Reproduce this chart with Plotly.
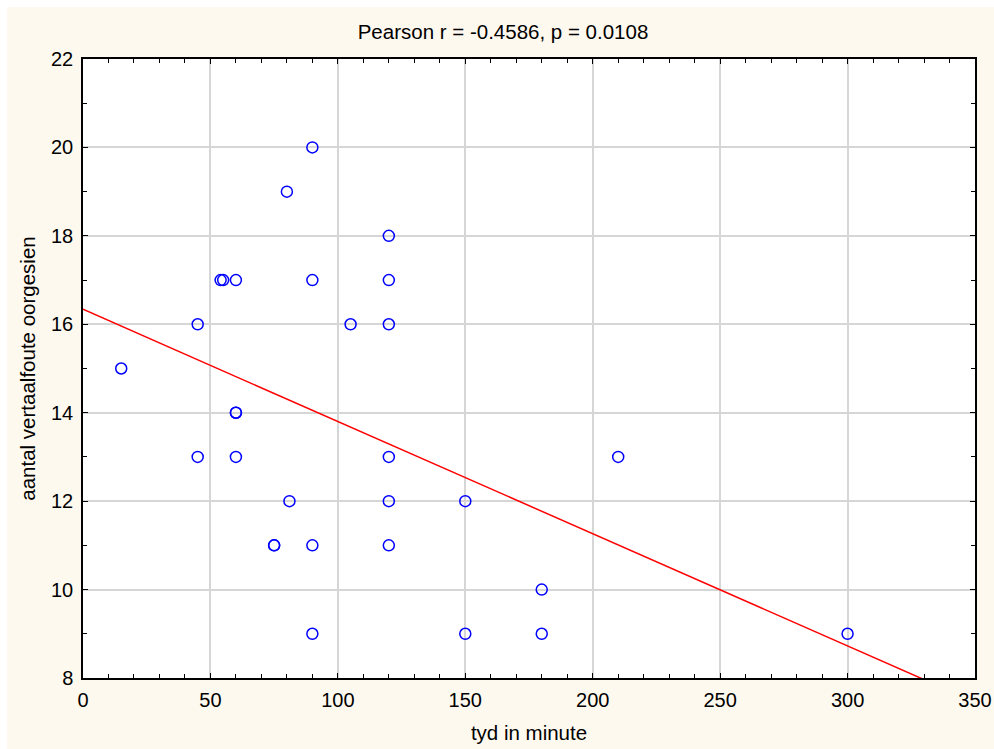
import numpy as np
import plotly.graph_objects as go

tyd = [15, 45, 45, 54, 55, 60, 60, 60, 60, 75, 75, 80, 81, 90, 90, 90, 90, 105,
       120, 120, 120, 120, 120, 120, 150, 150, 180, 180, 210, 300]
foute = [15, 16, 13, 17, 17, 17, 14, 14, 13, 11, 11, 19, 12, 20, 17, 11, 9, 16,
         18, 17, 16, 13, 12, 11, 12, 9, 10, 9, 13, 9]

x_ticks = [0, 50, 100, 150, 200, 250, 300, 350]
y_ticks = [8, 10, 12, 14, 16, 18, 20, 22]
title_text = "Pearson r = -0.4586, p = 0.0108"
x_title = "tyd in minute"
y_title = "aantal vertaalfoute oorgesien"

slope, intercept = np.polyfit(tyd, foute, 1)
line_x = [0, 350]
line_y = [intercept + slope * v for v in line_x]

FONT = "Liberation Sans, Arial, sans-serif"
CREAM = "#FEF9EF"

fig = go.Figure()
fig.add_trace(go.Scatter(x=line_x, y=line_y, mode="lines",
                         line=dict(color="#FF0000", width=1.5),
                         hoverinfo="skip", showlegend=False))
fig.add_trace(go.Scatter(x=tyd, y=foute, mode="markers",
                         marker=dict(symbol="circle-open", size=11,
                                     color="#0000FF", line=dict(width=1.5, color="#0000FF")),
                         showlegend=False, cliponaxis=False))

axis_common = dict(showline=True, linecolor="black", linewidth=1.5, mirror="allticks",
                   ticks="inside", ticklen=5, tickcolor="black", tickwidth=1,
                   showgrid=True, gridcolor="#D6D6D6", gridwidth=1.5, zeroline=False,
                   automargin=False,
                   tickfont=dict(family=FONT, size=20, color="black"))

fig.update_xaxes(range=[0, 350], tickvals=x_ticks, ticktext=[str(v) for v in x_ticks],
                 minor=dict(dtick=10, ticks="inside", ticklen=4, tickcolor="black", showgrid=False),
                 ticklabelstandoff=3,
                 title=dict(text=x_title, font=dict(family=FONT, size=20.5, color="black"), standoff=16),
                 **axis_common)
fig.update_yaxes(range=[8, 22], tickvals=y_ticks, ticktext=[str(v) for v in y_ticks],
                 minor=dict(dtick=1, ticks="inside", ticklen=4, tickcolor="black", showgrid=False),
                 ticklabelstandoff=4,
                 title=dict(text=y_title, font=dict(family=FONT, size=20.5, color="black"), standoff=10),
                 **axis_common)

# white strips along the page's top and left edges
fig.add_shape(type="rect", xref="paper", yref="paper", x0=-83/892, x1=-76/892,
              y0=-71/619, y1=1 + 59/619, fillcolor="white", line_width=0, layer="below")
fig.add_shape(type="rect", xref="paper", yref="paper", x0=-83/892, x1=1 + 19/892,
              y0=1 + 52/619, y1=1 + 59/619, fillcolor="white", line_width=0, layer="below")

fig.update_layout(
    width=994, height=749,
    margin=dict(l=83, r=19, t=59, b=71, autoexpand=False),
    paper_bgcolor=CREAM, plot_bgcolor="white",
    title=dict(text=title_text, x=503/994, xanchor="center", y=1 - 32/749, yanchor="middle",
               font=dict(family=FONT, size=20.5, color="black")),
    font=dict(family=FONT, color="black"),
)

fig.write_html("out.html")
